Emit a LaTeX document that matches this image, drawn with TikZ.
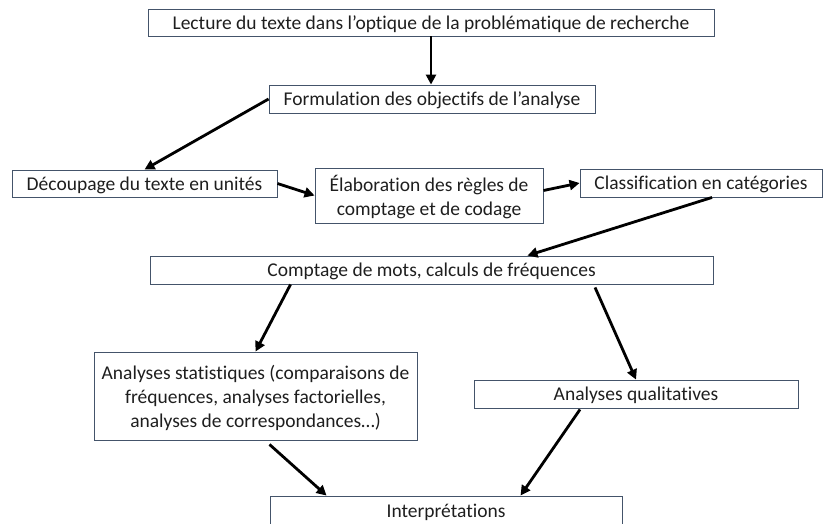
\documentclass[tikz,border=0pt]{standalone}
\usepackage{fontspec}
\setmainfont{Carlito}[Ligatures=CommonOff]
\usetikzlibrary{arrows.meta,calc}
\definecolor{boxline}{RGB}{68,84,106}
\definecolor{txt}{RGB}{30,30,30}
\tikzset{
  box/.style={draw=boxline, line width=0.9pt, inner sep=0pt, align=center, text=txt,
    text depth=0pt, font=\fontsize{19.5}{24}\selectfont},
  arr/.style={line width=2.8pt, -{Triangle[length=10pt,width=10pt]}, black}
}
\begin{document}
\begin{tikzpicture}[x=1pt,y=-1pt]
\useasboundingbox (0,0) rectangle (834,523);
\clip (0,0) rectangle (834,523);
\node[box, minimum width=566pt, minimum height=27pt] (lect) at (431,22.5) {Lecture du texte dans l’optique de la problématique de recherche};
\node[box, minimum width=326pt, minimum height=28pt] (form) at (432,99) {Formulation des objectifs de l’analyse};
\node[box, minimum width=265pt, minimum height=27pt] (dec) at (144.5,183.5) {Découpage du texte en unités};
\node[box, minimum width=228pt, minimum height=55pt] (elab) at (429,195.5) {Élaboration des règles de\\comptage et de codage};
\node[box, minimum width=242pt, minimum height=28pt] (class) at (701,183) {Classification en catégories};
\node[box, minimum width=563pt, minimum height=28pt] (comp) at (431.5,270) {Comptage de mots, calculs de fréquences};
\node[box, minimum width=323pt, minimum height=88pt] (stats) at (255.5,396) {Analyses statistiques (comparaisons de\\fréquences, analyses factorielles,\\analyses de correspondances…)};
\node[box, minimum width=324pt, minimum height=28pt] (qual) at (636,394) {Analyses qualitatives};
\node[box, minimum width=352pt, minimum height=30pt] (interp) at (446,511) {Interprétations};

\draw[arr] (lect.south) -- (lect.south |- form.north);
\draw[arr] (form.west) -- (dec.north);
\draw[arr] (dec.east) -- (elab.west);
\draw[arr] ($(elab.east)+(0,-5)$) -- (class.west);
\draw[arr] ($(class.south)+(11,0)$) -- ($(comp.north)+(96,0)$);
\draw[arr] ($(comp.south west)!0.25!(comp.south east)$) -- (stats.north);
\draw[arr] ($(comp.south west)!0.79!(comp.south east)+(0,3)$) -- (qual.north);
\draw[arr] ($(stats.south)+(14,4)$) -- ($(interp.north west)+(57,0)$);
\draw[arr] ($(qual.south)+(-56,1)$) -- ($(interp.north west)+(251,0)$);
\end{tikzpicture}
\end{document}
